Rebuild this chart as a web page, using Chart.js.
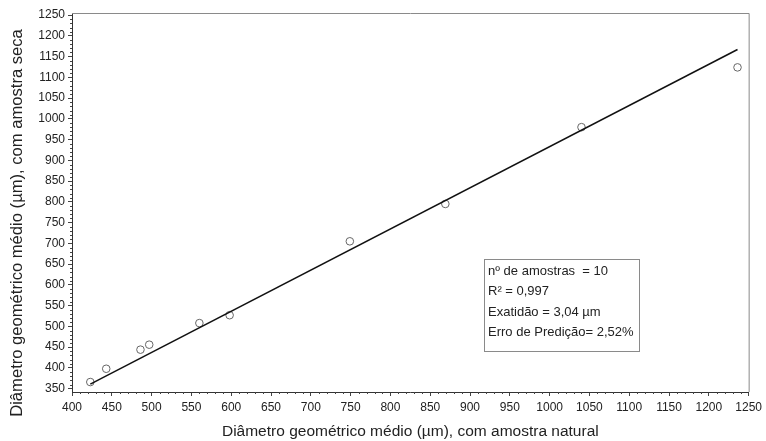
<!DOCTYPE html>
<html>
<head>
    <title>Diâmetro geométrico médio</title>
    <script src="https://cdn.jsdelivr.net/npm/chart.js"></script>
    <style>
        body {
            margin: 0;
            background: #fff;
            font-family: Arial, "Liberation Sans", sans-serif;
        }
        .wrap {
            position: relative;
            width: 766px;
            height: 441px;
        }
        .stats {
            position: absolute;
            left: 484px;
            top: 259px;
            width: 156px;
            height: 93px;
            border: 1px solid #8a8a8a;
            font-size: 13px;
            color: #222;
            box-sizing: border-box;
            padding: 1px 0 0 3px;
            line-height: 20.3px;
        }
    </style>
</head>
<body>
    <div class="wrap">
        <canvas id="chart" width="766" height="441"></canvas>
        <div class="stats">
            <div>nº de amostras&nbsp; = 10</div>
            <div>R² = 0,997</div>
            <div>Exatidão = 3,04 µm</div>
            <div>Erro de Predição= 2,52%</div>
        </div>
    </div>

    <script>
        // Amostras: natural (x) vs seca (y), em µm
        const naturalValues = [423, 443, 486, 497, 560, 598, 749, 869, 1040, 1236];
        const secaValues = [366, 398, 444, 456, 508, 527, 705, 795, 980, 1124];

        // Reta de ajuste (extremos)
        const fitX = [423, 1236];
        const fitY = [361, 1167];

        const xTicks = [400, 450, 500, 550, 600, 650, 700, 750, 800, 850, 900, 950, 1000, 1050, 1100, 1150, 1200, 1250];
        const yTicks = [350, 400, 450, 500, 550, 600, 650, 700, 750, 800, 850, 900, 950, 1000, 1050, 1100, 1150, 1200, 1250];

        const xRange = [400, 1250];
        const yRange = [342, 1255];

        const fam = 'Arial, "Liberation Sans", sans-serif';
        const tickFont = { family: fam, size: 12 };

        // small minor ticks every 10, grey frame on top/right, y title
        const extras = {
            id: 'extras',
            afterDraw(chart) {
                const ctx = chart.ctx;
                const a = chart.chartArea;
                const xs = chart.scales.x, ys = chart.scales.y;
                ctx.save();
                ctx.strokeStyle = '#444';
                ctx.lineWidth = 1;
                ctx.beginPath();
                for (let v = Math.ceil(xs.min / 10) * 10; v <= xs.max; v += 10) {
                    if (v % 50 === 0) continue;
                    const px = Math.round(xs.getPixelForValue(v)) + 0.5;
                    ctx.moveTo(px, a.bottom);
                    ctx.lineTo(px, a.bottom + 2);
                }
                for (let v = Math.ceil(ys.min / 10) * 10; v <= ys.max; v += 10) {
                    if (v % 50 === 0) continue;
                    const py = Math.round(ys.getPixelForValue(v)) + 0.5;
                    ctx.moveTo(a.left, py);
                    ctx.lineTo(a.left - 2, py);
                }
                ctx.stroke();
                ctx.strokeStyle = '#8a8a8a';
                ctx.beginPath();
                ctx.moveTo(a.left, a.top + 0.5);
                ctx.lineTo(a.right + 0.5, a.top + 0.5);
                ctx.lineTo(a.right + 0.5, a.bottom);
                ctx.stroke();

                ctx.translate(17, 223);
                ctx.rotate(-Math.PI / 2);
                ctx.fillStyle = '#222';
                ctx.font = '16.6px ' + fam;
                ctx.textAlign = 'center';
                ctx.textBaseline = 'middle';
                ctx.fillText('Diâmetro geométrico médio (µm), com amostra seca', 0, 0);
                ctx.restore();
            }
        };

        const ctx = document.getElementById('chart').getContext('2d');
        new Chart(ctx, {
            type: 'scatter',
            data: {
                datasets: [
                    {
                        label: 'Amostras',
                        data: naturalValues.map((x, i) => ({ x: x, y: secaValues[i] })),
                        showLine: false,
                        pointStyle: 'circle',
                        pointRadius: 3.8,
                        pointBorderWidth: 1,
                        pointBorderColor: '#666',
                        pointBackgroundColor: 'rgba(255,255,255,0)',
                        order: 2
                    },
                    {
                        label: 'Ajuste',
                        data: fitX.map((x, i) => ({ x: x, y: fitY[i] })),
                        showLine: true,
                        borderColor: '#111',
                        borderWidth: 1.5,
                        pointRadius: 0,
                        order: 1
                    }
                ]
            },
            options: {
                responsive: false,
                animation: false,
                layout: { padding: { top: 13, right: 14, left: 0, bottom: 0 } },
                plugins: {
                    legend: { display: false },
                    tooltip: { enabled: false }
                },
                scales: {
                    x: {
                        type: 'linear',
                        min: xRange[0],
                        max: xRange[1],
                        afterBuildTicks: s => { s.ticks = xTicks.map(v => ({ value: v })); },
                        afterFit: s => { s.height = 49; },
                        ticks: { color: '#222', font: tickFont, padding: 4, maxRotation: 0, autoSkip: false, callback: v => String(v) },
                        grid: { drawOnChartArea: false, tickLength: 4, tickColor: '#444' },
                        border: { color: '#333', width: 1 },
                        title: {
                            display: true,
                            text: 'Diâmetro geométrico médio (µm), com amostra natural',
                            color: '#222',
                            font: { family: fam, size: 15.5 },
                            padding: { top: 1, bottom: 0 }
                        }
                    },
                    y: {
                        type: 'linear',
                        min: yRange[0],
                        max: yRange[1],
                        afterBuildTicks: s => { s.ticks = yTicks.map(v => ({ value: v })); },
                        afterFit: s => { s.width = 72; },
                        ticks: { color: '#222', font: tickFont, padding: 3, autoSkip: false, callback: v => String(v) },
                        grid: { drawOnChartArea: false, tickLength: 4, tickColor: '#444' },
                        border: { color: '#333', width: 1 }
                    }
                }
            },
            plugins: [extras]
        });
    </script>
</body>
</html>
